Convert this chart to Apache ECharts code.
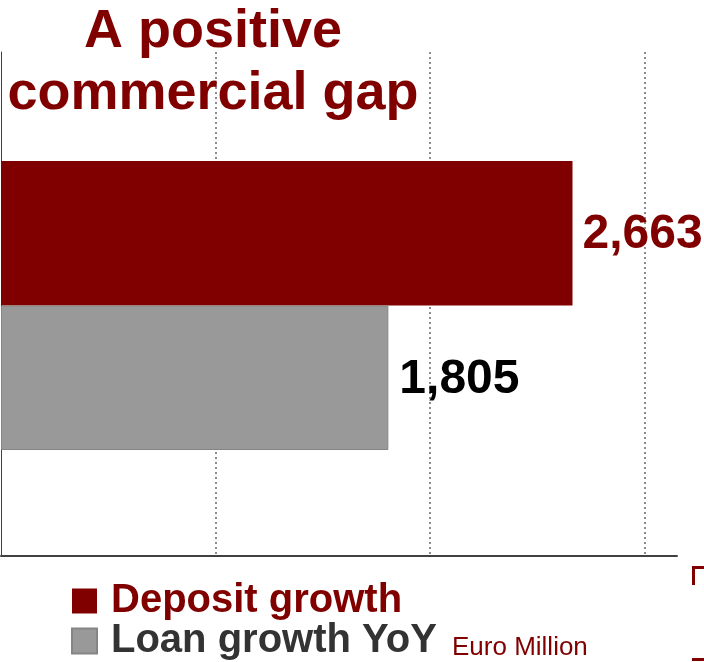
<!DOCTYPE html>
<html>
<head>
<meta charset="utf-8">
<script src="https://cdn.jsdelivr.net/npm/echarts@6/dist/echarts.min.js"></script>
<style>
  html, body { margin: 0; padding: 0; background: #ffffff; }
  #chart { width: 704px; height: 662px; }
</style>
</head>
<body>
<div id="chart"></div>
<script>
// Year-on-year growth, Euro Million
const categories = [''];
const seriesNames = ['Deposit growth', 'Loan growth YoY'];
const depositGrowth = [2663];
const loanGrowth = [1805];
const xTicks = [0, 1000, 2000, 3000];
const xMax = 3150;

const DARK_RED = '#800000';
const GREY = '#999999';
const FONT = '"Liberation Sans", Arial, sans-serif';

const chart = echarts.init(document.getElementById('chart'), null, { renderer: 'canvas' });

const fmt = v => v.toLocaleString('en-US');

// shared value-axis settings so both grids use the same scale
const valueAxisBase = {
  type: 'value',
  min: xTicks[0],
  max: xMax,
  interval: xTicks[1] - xTicks[0]
};

chart.setOption({
  animation: false,
  backgroundColor: '#ffffff',
  title: {
    text: 'A positive\ncommercial gap',
    left: 213,
    top: 1,
    padding: 0,
    textAlign: 'center',
    textStyle: {
      fontFamily: FONT,
      fontWeight: 'bold',
      fontSize: 54,
      lineHeight: 62,
      color: DARK_RED
    }
  },
  grid: [
    // frame: axis lines and dotted gridlines
    { left: 1, right: 27, top: 52, bottom: 106 },
    // bars
    { left: 1, right: 27, top: 55, bottom: 106 }
  ],
  xAxis: [
    Object.assign({}, valueAxisBase, {
      gridIndex: 0,
      axisLabel: { show: false },
      axisTick: { show: false },
      axisLine: { show: true, lineStyle: { color: '#404040', width: 2 } },
      splitLine: {
        show: true,
        showMinLine: false,
        showMaxLine: false,
        lineStyle: { color: '#8c8c8c', width: 2, type: [2, 3] }
      }
    }),
    Object.assign({}, valueAxisBase, {
      gridIndex: 1,
      show: false,
      splitLine: { show: false }
    })
  ],
  yAxis: [
    {
      type: 'category',
      gridIndex: 0,
      data: categories,
      axisLabel: { show: false },
      axisTick: { show: false },
      axisLine: { show: true, lineStyle: { color: '#404040', width: 1 } },
      splitLine: { show: false }
    },
    {
      type: 'category',
      gridIndex: 1,
      data: categories,
      inverse: true,
      show: false
    }
  ],
  legend: {
    orient: 'vertical',
    left: 71,
    top: 581,
    height: 90,
    padding: 0,
    itemWidth: 25,
    itemHeight: 25,
    itemGap: 0,
    icon: 'rect',
    data: [
      { name: seriesNames[0], textStyle: { color: DARK_RED } },
      { name: seriesNames[1], textStyle: { color: '#333333' } }
    ],
    textStyle: {
      fontFamily: FONT,
      fontWeight: 'bold',
      fontSize: 40,
      lineHeight: 31,
      padding: [8, 0, 0, 9]
    }
  },
  series: [
    {
      name: seriesNames[0],
      type: 'bar',
      xAxisIndex: 1,
      yAxisIndex: 1,
      data: depositGrowth,
      barWidth: 144.5,
      barGap: '0%',
      itemStyle: { color: DARK_RED },
      label: {
        show: true,
        position: 'right',
        distance: 10,
        offset: [0, 2],
        formatter: p => fmt(p.value),
        fontFamily: FONT,
        fontWeight: 'bold',
        fontSize: 48,
        color: DARK_RED
      }
    },
    {
      name: seriesNames[1],
      type: 'bar',
      xAxisIndex: 1,
      yAxisIndex: 1,
      data: loanGrowth,
      barWidth: 144.5,
      barGap: '0%',
      itemStyle: { color: GREY, borderColor: '#858585', borderWidth: 1 },
      label: {
        show: true,
        position: 'right',
        distance: 11,
        offset: [0, 2],
        formatter: p => fmt(p.value),
        fontFamily: FONT,
        fontWeight: 'bold',
        fontSize: 48,
        color: '#000000'
      }
    }
  ],
  graphic: [
    {
      type: 'text',
      x: 452,
      y: 661,
      style: {
        text: 'Euro Million',
        fontFamily: FONT,
        fontSize: 26,
        fill: DARK_RED,
        verticalAlign: 'bottom'
      }
    },
    {
      type: 'polyline',
      shape: { points: [[693.5, 585], [693.5, 567.5], [704, 567.5]] },
      style: { stroke: DARK_RED, lineWidth: 3, fill: null }
    },
    {
      type: 'line',
      shape: { x1: 692, y1: 659.5, x2: 704, y2: 659.5 },
      style: { stroke: DARK_RED, lineWidth: 3 }
    }
  ]
});
</script>
</body>
</html>
